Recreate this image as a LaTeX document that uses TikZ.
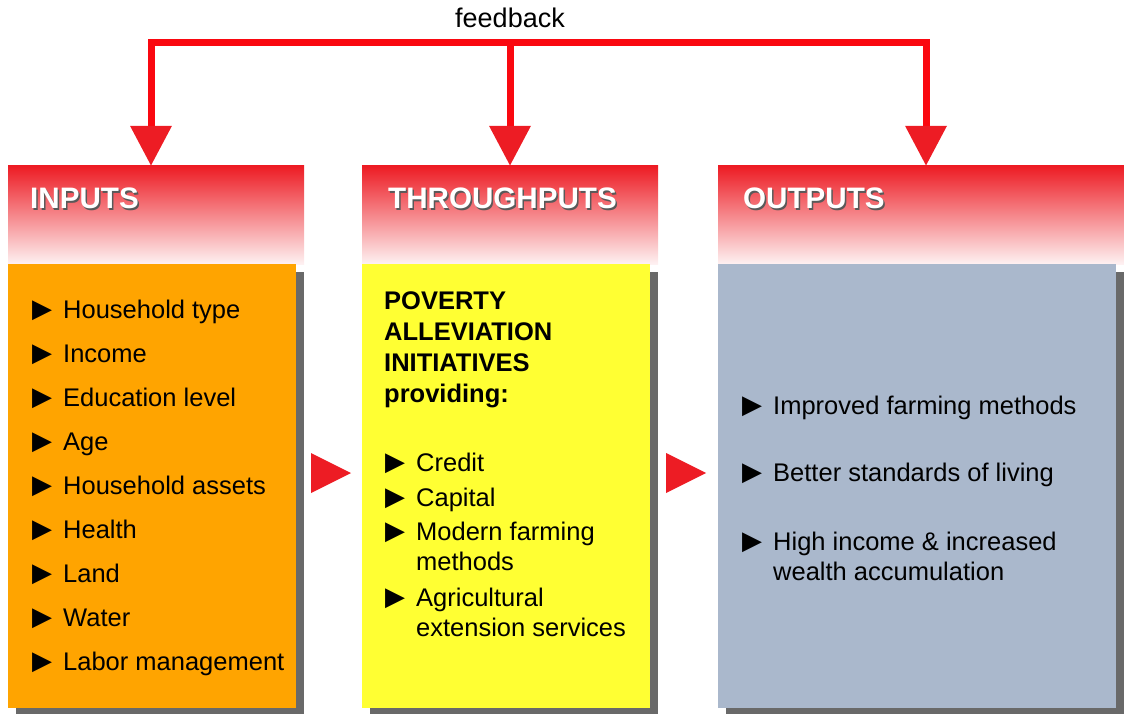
\documentclass[tikz,border=0pt]{standalone}
\usepackage{fontspec}
\setmainfont{Liberation Sans}
\newfontfamily\symfont{DejaVu Sans}
\usetikzlibrary{arrows.meta,
	calc,
	shadows}

\definecolor{headred}{RGB}{237,28,36}
\definecolor{fbred}{RGB}{250,8,16}
\definecolor{inorange}{RGB}{255,164,0}
\definecolor{thryellow}{RGB}{255,255,51}
\definecolor{outblue}{RGB}{170,184,204}
\definecolor{shadowgray}{RGB}{105,105,105}

\newcommand{\bul}{\makebox[31pt][l]{\raisebox{0.5pt}{\symfont\fontsize{26}{26}\selectfont ▶}}}
\newcommand{\headtext}[3]{%
  \node[htext, text=black!65] at (#1+1.5,#2+1.5) {#3};
  \node[htext] at (#1,#2) {#3};}

\begin{document}
\begin{tikzpicture}[x=1pt,y=-1pt]
    \tikzstyle{header}=[rectangle,inner sep=0pt,minimum height=98pt,top color=headred,bottom color=headred!6!white]
    \tikzstyle{body}=[rectangle,inner sep=0pt,minimum height=444pt,drop shadow={shadow xshift=8pt,shadow yshift=-8pt,fill=shadowgray,opacity=1}]
    \tikzstyle{htext}=[anchor=base west,inner sep=0pt,text=white,font=\bfseries\fontsize{29.6}{30}\selectfont]
    \tikzstyle{item}=[anchor=base west,inner sep=0pt,align=left,font=\fontsize{25.5}{30}\selectfont]
    \tikzstyle{fbline}=[draw=fbred,line width=7pt,line join=miter]
    \useasboundingbox (0,0) rectangle (1124,714);

    % headers
    \node[header,minimum width=296pt] (hin) at (156,215) {};
    \node[header,minimum width=296pt] (hthr) at (510,215) {};
    \node[header,minimum width=406pt] (hout) at (921,215) {};
    \headtext{30}{209}{INPUTS}
    \headtext{388}{209}{THROUGHPUTS}
    \headtext{743}{209}{OUTPUTS}

    % bodies
    \node[body,fill=inorange,minimum width=288pt] (bin) at (152,486) {};
    \node[body,fill=thryellow,minimum width=288pt] (bthr) at (506,486) {};
    \node[body,fill=outblue,minimum width=398pt] (bout) at (917,486) {};

    % feedback loop
    \coordinate (fb) at (510,43);
    \node[anchor=base,inner sep=0pt,font=\fontsize{27}{27}\selectfont] (fbl) at (510,28) {feedback};
    \draw[fbline,{Triangle[width=40pt,length=40pt,color=headred]}-{Triangle[width=40pt,length=40pt,color=headred]}]
      ([xshift=-5pt]hin.north) |- (fb) -| ([xshift=5pt]hout.north);
    \draw[fbline,-{Triangle[width=40pt,length=40pt,color=headred]}] (fb) -- (hthr.north);

    % arrows between the boxes
    \fill[headred] (311,453) -- (351,473) -- (311,493) -- cycle;
    \fill[headred] (666,453) -- (706,473) -- (666,493) -- cycle;

    % inputs
    \foreach \txt [count=\i] in {Household type,Income,Education level,Age,Household assets,Health,Land,Water,Labor management}
      \node[item] (in\i) at (32,274+44*\i) {\bul\txt};

    % throughputs (base = last line)
    \node[item,font=\bfseries\fontsize{25.5}{31}\selectfont] (pai) at (384,402) {POVERTY\\ALLEVIATION\\INITIATIVES\\providing:};
    \node[item] (thr1) at (385,471) {\bul Credit};
    \node[item] (thr2) at (385,506) {\bul Capital};
    \node[item] (thr3) at (385,570) {\bul Modern farming\\\hspace*{31pt}methods};
    \node[item] (thr4) at (385,636) {\bul Agricultural\\\hspace*{31pt}extension services};

    % outputs
    \node[item] (out1) at (742,414) {\bul Improved farming methods};
    \node[item] (out2) at (742,481) {\bul Better standards of living};
    \node[item] (out3) at (742,580) {\bul High income \& increased\\\hspace*{31pt}wealth accumulation};
\end{tikzpicture}
\end{document}
